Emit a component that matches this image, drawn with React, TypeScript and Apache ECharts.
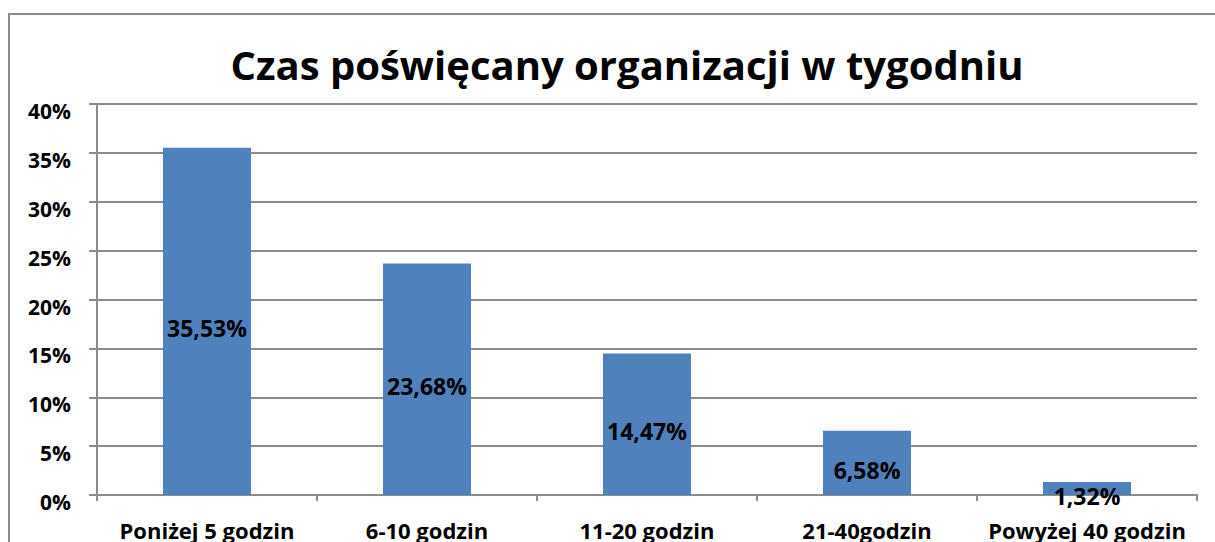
import React, { useEffect, useRef } from "react";
import * as echarts from "echarts";

const categories = ["Poniżej 5 godzin", "6-10 godzin", "11-20 godzin", "21-40godzin", "Powyżej 40 godzin"];
const values = [35.53, 23.68, 14.47, 6.58, 1.32];
const yTicks = [0, 5, 10, 15, 20, 25, 30, 35, 40];
const titleText = "Czas poświęcany organizacji w tygodniu";

const FONT = "'Open Sans', 'Noto Sans', sans-serif";

export default function App() {
  const ref = useRef<HTMLDivElement>(null);
  useEffect(() => {
    if (!ref.current) return;
    const chart = echarts.init(ref.current, undefined, { renderer: "svg" });
    chart.setOption({
      animation: false,
      backgroundColor: "#ffffff",
      title: {
        text: titleText,
        left: 622,
        top: 39,
        textAlign: "center",
        textStyle: { fontFamily: FONT, fontWeight: "bold", fontSize: 40, color: "#000" },
      },
      graphic: [
        {
          type: "rect",
          shape: { x: 9, y: 14, width: 1300, height: 600 },
          style: { fill: "none", stroke: "#8c8c8c", lineWidth: 2 },
          silent: true,
        },
      ],
      grid: { left: 97, right: 18, top: 104, bottom: 47, containLabel: false },
      xAxis: {
        type: "category",
        data: categories,
        axisLine: { show: true, lineStyle: { color: "#8c8c8c", width: 2 } },
        axisTick: { show: true, alignWithLabel: false, length: 6, lineStyle: { color: "#8c8c8c", width: 2 } },
        axisLabel: {
          interval: 0,
          margin: 24,
          fontFamily: FONT,
          fontWeight: "bold",
          fontSize: 22,
          color: "#000",
        },
      },
      yAxis: {
        type: "value",
        min: 0,
        max: 40,
        interval: 5,
        axisLine: { show: true, lineStyle: { color: "#8c8c8c", width: 2 } },
        axisTick: { show: true, length: 8, lineStyle: { color: "#8c8c8c", width: 2 } },
        splitLine: { show: true, lineStyle: { color: "#8c8c8c", width: 2 } },
        axisLabel: {
          margin: 26,
          fontFamily: FONT,
          fontWeight: "bold",
          fontSize: 21,
          color: "#000",
          verticalAlign: "top",
          lineHeight: 14,
          formatter: (v: number) => (yTicks.includes(v) ? v + "%" : ""),
        },
      },
      series: [
        {
          type: "bar",
          data: values,
          barWidth: "40%",
          itemStyle: { color: "#4F81BD" },
          label: {
            show: true,
            position: "inside",
            offset: [0, 7],
            fontFamily: FONT,
            fontWeight: "bold",
            fontSize: 23,
            color: "#000",
            formatter: (p: any) => p.value.toFixed(2).replace(".", ",") + "%",
          },
        },
      ],
    });
    return () => chart.dispose();
  }, []);
  return <div ref={ref} style={{ position: "fixed", left: 0, top: 0, width: 1215, height: 542 }} />;
}
